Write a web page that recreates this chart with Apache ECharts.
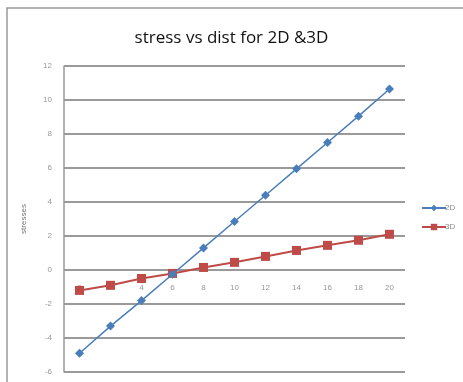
<!DOCTYPE html>
<html><head><meta charset="utf-8">
<script src="https://cdn.jsdelivr.net/npm/echarts@6/dist/echarts.min.js"></script>
<style>html,body{margin:0;padding:0;background:#fff}#c{width:463px;height:382px}</style>
</head><body><div id="c"></div>
<script>
const categories = ['0','2','4','6','8','10','12','14','16','18','20'];
const series2D = [-4.9, -3.3, -1.8, -0.25, 1.3, 2.85, 4.4, 5.95, 7.5, 9.05, 10.65];
const series3D = [-1.2, -0.9, -0.5, -0.2, 0.15, 0.45, 0.8, 1.15, 1.45, 1.75, 2.1];
const yTicks = {min: -6, max: 12, interval: 2};

const chart = echarts.init(document.getElementById('c'));
chart.setOption({
  animation: false,
  backgroundColor: '#fff',
  graphic: [{type: 'rect', shape: {x: 7, y: 8, width: 470, height: 400}, style: {fill: 'none', stroke: '#9a9a9a', lineWidth: 1.5}, z: -1}],
  title: {text: 'stress vs dist for 2D &3D', left: 'center', top: 25,
    textStyle: {fontFamily: 'Open Sans', fontSize: 17, fontWeight: 'normal', color: '#111'}},
  grid: {left: 64, right: 58, top: 66, bottom: 10, show: true, borderWidth: 0},
  legend: {orient: 'vertical', left: 416, top: 199, itemGap: 11, itemWidth: 24, itemHeight: 8,
    textStyle: {fontSize: 8, color: '#888', fontFamily: 'Liberation Sans', padding: [0,0,0,-6]},
    data: ['2D', '3D']},
  xAxis: {type: 'category', data: categories, boundaryGap: true, z: 0,
    axisLine: {onZero: false, show: false},
    offset: -102,
    axisTick: {show: false},
    axisLabel: {fontSize: 8, color: '#999', margin: 14, fontFamily: 'Liberation Sans'},
    splitLine: {show: false}},
  yAxis: {type: 'value', min: yTicks.min, max: yTicks.max, interval: yTicks.interval,
    name: 'stresses', nameLocation: 'middle', nameGap: 36, nameRotate: 90,
    nameTextStyle: {fontSize: 8, color: '#777', fontFamily: 'Liberation Sans'},
    axisLine: {show: true, lineStyle: {color: '#999', width: 1.5}},
    axisTick: {show: false},
    axisLabel: {fontSize: 8, color: '#999', margin: 12, fontFamily: 'Liberation Sans'},
    splitLine: {lineStyle: {color: '#9a9a9a', width: 2}}},
  series: [
    {name: '2D', type: 'line', data: series2D, symbol: 'diamond', symbolSize: 9,
      lineStyle: {color: '#4a7ebb', width: 1.5}, itemStyle: {color: '#4a7ebb'}, z: 3},
    {name: '3D', type: 'line', data: series3D, symbol: 'rect', symbolSize: 9,
      lineStyle: {color: '#be4b48', width: 2}, itemStyle: {color: '#be4b48'}, z: 2}
  ]
});
</script></body></html>
